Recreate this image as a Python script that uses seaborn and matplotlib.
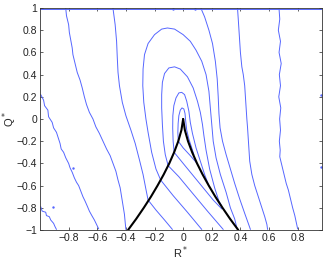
import pandas as pd
import seaborn as sns
import matplotlib.pyplot as plt

# contour lines of the joint PDF (R*, Q*)
lvl1_left_R = [-0.995, -0.975, -0.968, -0.945, -0.94, -0.915, -0.905, -0.885, -0.87, -0.86, -0.852, -0.835,
               -0.82, -0.80, -0.79, -0.775, -0.76, -0.745, -0.73, -0.715, -0.70, -0.685, -0.668, -0.655,
               -0.638, -0.62, -0.605, -0.59]
lvl1_left_Q = [0.22, 0.17, 0.12, 0.08, 0.02, -0.03, -0.08, -0.12, -0.18, -0.22, -0.27, -0.30,
               -0.35, -0.40, -0.44, -0.48, -0.53, -0.57, -0.60, -0.65, -0.70, -0.74, -0.79, -0.83,
               -0.87, -0.91, -0.95, -0.99]

lvl1_corner_R = [-0.995, -0.985, -0.96, -0.955, -0.935, -0.925, -0.905, -0.895, -0.885]
lvl1_corner_Q = [-0.79, -0.83, -0.84, -0.87, -0.88, -0.91, -0.94, -0.97, -0.995]

lvl1_right_R = [0.67, 0.675, 0.665, 0.68, 0.67, 0.685, 0.672, 0.68, 0.668, 0.682, 0.674, 0.68, 0.672,
                0.678, 0.675, 0.69, 0.705, 0.72, 0.735, 0.75, 0.765, 0.78, 0.79, 0.80]
lvl1_right_Q = [0.99, 0.90, 0.80, 0.70, 0.60, 0.50, 0.40, 0.30, 0.20, 0.10, 0.0, -0.10, -0.20,
                -0.28, -0.34, -0.42, -0.50, -0.58, -0.64, -0.72, -0.80, -0.87, -0.93, -0.99]

lvl1_top_R = [-1.0, 0.97]
lvl1_top_Q = [0.99, 0.99]

lvl2_left_R = [-0.82, -0.815, -0.80, -0.795, -0.785, -0.775, -0.77, -0.755, -0.74, -0.72, -0.705, -0.69,
               -0.675, -0.655, -0.63, -0.61, -0.585, -0.56, -0.535, -0.51, -0.49, -0.47, -0.455, -0.44,
               -0.43, -0.42, -0.41, -0.405, -0.40]
lvl2_left_Q = [0.995, 0.93, 0.85, 0.78, 0.71, 0.64, 0.58, 0.50, 0.42, 0.35, 0.28, 0.20,
               0.13, 0.06, 0.0, -0.07, -0.13, -0.20, -0.27, -0.33, -0.40, -0.47, -0.55, -0.62,
               -0.70, -0.78, -0.86, -0.93, -0.995]

lvl2_right_R = [0.38, 0.385, 0.39, 0.395, 0.40, 0.41, 0.42, 0.43, 0.435, 0.44, 0.445, 0.45, 0.455, 0.46,
                0.465, 0.48, 0.50, 0.525, 0.55, 0.57, 0.585, 0.59]
lvl2_right_Q = [0.995, 0.90, 0.80, 0.70, 0.60, 0.47, 0.40, 0.30, 0.20, 0.10, 0.0, -0.08, -0.18, -0.28,
                -0.38, -0.50, -0.60, -0.70, -0.80, -0.88, -0.95, -0.995]

lvl3_left_R = [-0.49, -0.475, -0.465, -0.46, -0.455, -0.445, -0.425, -0.40, -0.365, -0.335, -0.305, -0.28,
               -0.262, -0.245, -0.19, -0.13, -0.075]
lvl3_left_Q = [0.995, 0.85, 0.70, 0.55, 0.42, 0.30, 0.15, 0.03, -0.10, -0.22, -0.37, -0.50,
               -0.62, -0.73, -0.82, -0.91, -0.995]

lvl3_right_R = [0.125, 0.15, 0.18, 0.205, 0.225, 0.238, 0.245, 0.25, 0.258, 0.275, 0.30, 0.33, 0.36,
                0.395, 0.43, 0.455, 0.47]
lvl3_right_Q = [0.995, 0.92, 0.80, 0.68, 0.52, 0.36, 0.20, 0.05, -0.08, -0.20, -0.32, -0.45, -0.58,
                -0.72, -0.85, -0.94, -0.995]

tear1_R = [0.13, 0.03, -0.07, -0.157, -0.19, -0.22, -0.245, -0.26, -0.275, -0.282, -0.28, -0.27, -0.245,
           -0.20, -0.15, -0.11, -0.06, 0.0, 0.05, 0.09, 0.13, 0.16, 0.18, 0.19, 0.20, 0.21, 0.23, 0.26,
           0.30, 0.33, 0.36, 0.375]
tear1_Q = [-0.995, -0.84, -0.69, -0.55, -0.45, -0.30, -0.12, 0.0, 0.15, 0.30, 0.45, 0.58, 0.68,
           0.76, 0.81, 0.82, 0.81, 0.76, 0.70, 0.62, 0.52, 0.40, 0.25, 0.10, -0.05, -0.20, -0.35, -0.50,
           -0.66, -0.80, -0.90, -0.98]

tear2_R = [0.28, 0.17, 0.06, -0.03, -0.105, -0.125, -0.138, -0.145, -0.15, -0.15, -0.145, -0.13, -0.10,
           -0.06, -0.02, 0.03, 0.07, 0.10, 0.12, 0.135, 0.145, 0.16, 0.185, 0.22, 0.25, 0.27]
tear2_Q = [-0.995, -0.83, -0.66, -0.52, -0.42, -0.32, -0.20, -0.05, 0.10, 0.22, 0.33, 0.41, 0.46,
           0.47, 0.45, 0.38, 0.28, 0.16, 0.06, -0.05, -0.15, -0.28, -0.45, -0.62, -0.74, -0.785]

tear3_R = [0.27, 0.21, 0.14, 0.07, 0.0, -0.063, -0.07, -0.073, -0.072, -0.065, -0.05, -0.03, -0.01,
           0.01, 0.025, 0.04, 0.05, 0.065, 0.09, 0.12, 0.15, 0.175]
tear3_Q = [-0.81, -0.73, -0.62, -0.51, -0.40, -0.30, -0.20, -0.08, 0.03, 0.12, 0.19, 0.235, 0.24,
           0.22, 0.16, 0.07, -0.03, -0.13, -0.26, -0.38, -0.50, -0.585]

tear4_R = [0.097, 0.05, 0.0, -0.034, -0.037, -0.035, -0.03, -0.02, -0.008, 0.005, 0.013, 0.018, 0.025,
           0.04, 0.06, 0.075]
tear4_Q = [-0.40, -0.33, -0.26, -0.20, -0.12, -0.04, 0.03, 0.08, 0.10, 0.09, 0.05, -0.02, -0.10,
           -0.18, -0.26, -0.32]

# Vieillefosse tail
tail_Q = [0.0, -0.1, -0.2, -0.3, -0.4, -0.5, -0.6, -0.7, -0.8, -0.9, -1.0]
tail_R = [0.0, 0.012, 0.034, 0.063, 0.097, 0.136, 0.179, 0.225, 0.275, 0.328, 0.385]

# stray specks
speck_R = [-0.77, -0.91, 0.96, 0.96, -0.07, 0.08]
speck_Q = [-0.44, -0.79, 0.22, -0.43, 0.99, 0.99]

contours = {
    'l1a': (lvl1_left_R, lvl1_left_Q), 'l1b': (lvl1_corner_R, lvl1_corner_Q),
    'l1c': (lvl1_right_R, lvl1_right_Q), 'l1d': (lvl1_top_R, lvl1_top_Q),
    'l2a': (lvl2_left_R, lvl2_left_Q), 'l2b': (lvl2_right_R, lvl2_right_Q),
    'l3a': (lvl3_left_R, lvl3_left_Q), 'l3b': (lvl3_right_R, lvl3_right_Q),
    't1': (tear1_R, tear1_Q), 't2': (tear2_R, tear2_Q),
    't3': (tear3_R, tear3_Q), 't4': (tear4_R, tear4_Q),
}
rows = []
for name, (rr, qq) in contours.items():
    for r, q in zip(rr, qq):
        rows.append((name, r, q))
df = pd.DataFrame(rows, columns=['line', 'R', 'Q'])

tail = pd.DataFrame({
    'line': ['left'] * len(tail_Q) + ['right'] * len(tail_Q),
    'R': [-r for r in tail_R] + tail_R,
    'Q': tail_Q + tail_Q,
})

sns.set_style('ticks')
plt.rcParams['font.family'] = ['Liberation Sans', 'DejaVu Sans']

fig = plt.figure(figsize=(3.27, 2.60), dpi=100)
ax = fig.add_axes([40 / 327, 30 / 260, 282 / 327, 222 / 260])

blue = '#5566ff'
sns.lineplot(data=df, x='R', y='Q', units='line', estimator=None, sort=False,
             color=blue, lw=0.7, ax=ax)
sns.scatterplot(x=speck_R, y=speck_Q, color=blue, s=3, linewidth=0, ax=ax)
sns.lineplot(data=tail, x='R', y='Q', units='line', estimator=None, sort=False,
             color='black', lw=1.5, ax=ax)

ax.set_xlim(-1, 0.97)
ax.set_ylim(-1, 1)
xt = [-0.8, -0.6, -0.4, -0.2, 0, 0.2, 0.4, 0.6, 0.8]
yt = [-1, -0.8, -0.6, -0.4, -0.2, 0, 0.2, 0.4, 0.6, 0.8, 1]
ax.set_xticks(xt)
ax.set_xticklabels([f'{v:g}'.replace('-', '\u2212') for v in xt])
ax.set_yticks(yt)
ax.set_yticklabels([f'{v:g}'.replace('-', '\u2212') for v in yt])
ax.tick_params(direction='in', length=2.5, width=0.5, labelsize=7.5, pad=2,
               top=True, right=True, colors='#222222')
for s in ax.spines.values():
    s.set_linewidth(0.6)
    s.set_color('#333333')
ax.set_xlabel('R$^*$', fontsize=8, labelpad=1)
ax.set_ylabel('Q$^*$', fontsize=8)
ax.yaxis.set_label_coords(-0.075, 0.5)

plt.savefig('out.png', dpi=100)
plt.close()
